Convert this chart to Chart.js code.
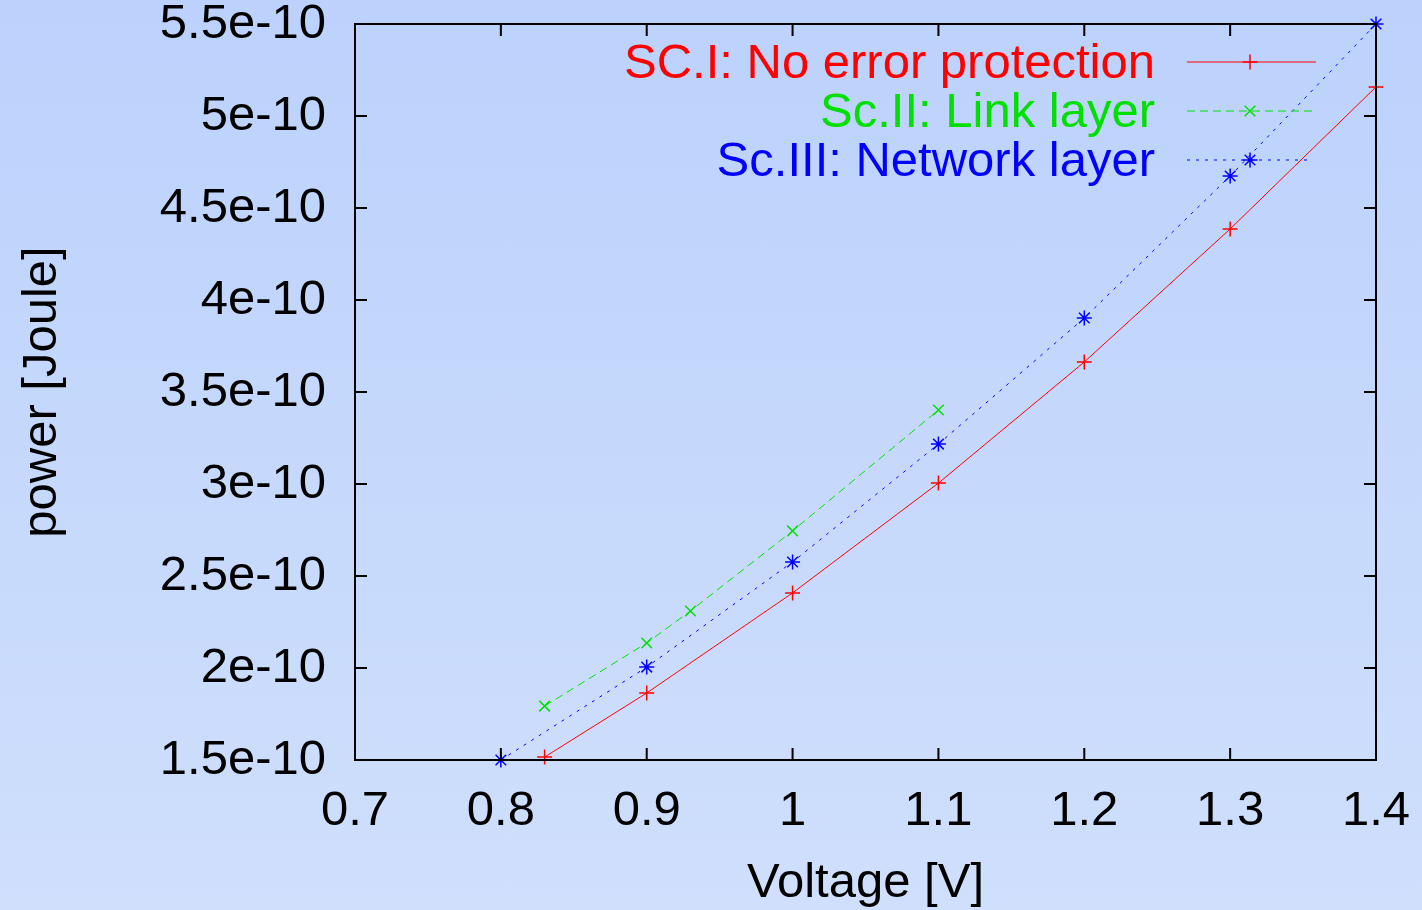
<!DOCTYPE html>
<html lang="en">
<head>
    <meta charset="UTF-8">
    <title>Power vs Voltage</title>
    <script src="https://cdn.jsdelivr.net/npm/chart.js"></script>
    <style>
        body {
            margin: 0;
            padding: 0;
            background: linear-gradient(to bottom, #bcd2fc, #cfdffc);
            width: 1422px;
            height: 910px;
            overflow: hidden;
        }

        #wrap {
            width: 1422px;
            height: 910px;
        }
    </style>
</head>
<body>
    <div id="wrap">
        <canvas id="powerChart" width="1422" height="910"></canvas>
    </div>

    <script>
        // values
        const scIVolt = [0.83, 0.9, 1.0, 1.1, 1.2, 1.3, 1.4];
        const scIPower = [1.516e-10, 1.864e-10, 2.408e-10, 3.005e-10, 3.663e-10, 4.386e-10, 5.158e-10];

        const scIIVolt = [0.83, 0.9, 0.93, 1.0, 1.1];
        const scIIPower = [1.793e-10, 2.136e-10, 2.31e-10, 2.745e-10, 3.402e-10];

        const scIIIVolt = [0.8, 0.9, 1.0, 1.1, 1.2, 1.3, 1.4];
        const scIIIPower = [1.5e-10, 2.005e-10, 2.576e-10, 3.217e-10, 3.902e-10, 4.674e-10, 5.5e-10];

        const seriesNames = ['SC.I: No error protection', 'Sc.II: Link layer', 'Sc.III: Network layer'];

        const xTicks = [0.7, 0.8, 0.9, 1.0, 1.1, 1.2, 1.3, 1.4];
        const yTicks = [1.5e-10, 2e-10, 2.5e-10, 3e-10, 3.5e-10, 4e-10, 4.5e-10, 5e-10, 5.5e-10];

        const FONT = '"Liberation Sans", Arial, sans-serif';

        function pairs(xs, ys) {
            return xs.map((x, i) => ({ x: x, y: ys[i] }));
        }

        function fmtY(v) {
            const m = Math.round(v * 1e11) / 10;
            return m + 'e-10';
        }

        // gnuplot style frame: full box with inward ticks on every side
        const framePlugin = {
            id: 'frame',
            afterDatasetsDraw(chart) {
                const { ctx, chartArea: a, scales } = chart;
                const len = 12;
                ctx.save();
                ctx.strokeStyle = '#000';
                ctx.lineWidth = 2;
                ctx.beginPath();
                xTicks.forEach(v => {
                    const px = scales.x.getPixelForValue(v);
                    ctx.moveTo(px, a.bottom);
                    ctx.lineTo(px, a.bottom - len);
                    ctx.moveTo(px, a.top);
                    ctx.lineTo(px, a.top + len);
                });
                yTicks.forEach(v => {
                    const py = scales.y.getPixelForValue(v);
                    ctx.moveTo(a.left, py);
                    ctx.lineTo(a.left + len, py);
                    ctx.moveTo(a.right, py);
                    ctx.lineTo(a.right - len, py);
                });
                ctx.stroke();
                ctx.strokeRect(a.left, a.top, a.right - a.left, a.bottom - a.top);
                ctx.restore();
            }
        };

        // legend: right aligned text, sample line with marker to its right
        const keyPlugin = {
            id: 'key',
            afterDraw(chart) {
                const { ctx } = chart;
                const rows = [62, 111, 160];
                ctx.save();
                ctx.font = '49px ' + FONT;
                ctx.textAlign = 'right';
                ctx.textBaseline = 'middle';
                chart.data.datasets.forEach((ds, i) => {
                    const y = rows[i];
                    ctx.fillStyle = ds.borderColor;
                    ctx.fillText(seriesNames[i], 1155, y + 2);

                    ctx.strokeStyle = ds.borderColor;
                    ctx.lineWidth = 1;
                    ctx.setLineDash(ds.borderDash || []);
                    ctx.beginPath();
                    ctx.moveTo(1187, y);
                    ctx.lineTo(i === 2 ? 1313 : 1316, y);
                    ctx.stroke();
                    ctx.setLineDash([]);

                    ctx.lineWidth = ds.pointBorderWidth;
                    Chart.helpers.drawPoint(ctx, {
                        pointStyle: ds.pointStyle,
                        radius: ds.pointRadius,
                        borderWidth: ds.pointBorderWidth
                    }, 1250, y);
                });
                ctx.restore();
            }
        };

        const powerChart = new Chart(document.getElementById('powerChart'), {
            type: 'scatter',
            data: {
                datasets: [
                    {
                        label: seriesNames[0],
                        data: pairs(scIVolt, scIPower),
                        showLine: true,
                        borderColor: '#ff0000',
                        backgroundColor: '#ff0000',
                        borderWidth: 1,
                        pointStyle: 'cross',
                        pointRadius: 7.5,
                        pointBorderWidth: 1.5,
                        clip: false
                    },
                    {
                        label: seriesNames[1],
                        data: pairs(scIIVolt, scIIPower),
                        showLine: true,
                        borderColor: '#00e000',
                        backgroundColor: '#00e000',
                        borderWidth: 1,
                        borderDash: [8, 5],
                        pointStyle: 'crossRot',
                        pointRadius: 7.5,
                        pointBorderWidth: 1.5,
                        clip: false
                    },
                    {
                        label: seriesNames[2],
                        data: pairs(scIIIVolt, scIIIPower),
                        showLine: true,
                        borderColor: '#0000ff',
                        backgroundColor: '#0000ff',
                        borderWidth: 1,
                        borderDash: [3, 6],
                        pointStyle: 'star',
                        pointRadius: 7.5,
                        pointBorderWidth: 1.5,
                        clip: false
                    }
                ]
            },
            options: {
                responsive: false,
                animation: false,
                layout: {
                    padding: { top: 24, right: 46, left: 0, bottom: 0 }
                },
                plugins: {
                    legend: { display: false },
                    tooltip: { enabled: false }
                },
                scales: {
                    x: {
                        type: 'linear',
                        min: 0.7,
                        max: 1.4,
                        afterFit(scale) {
                            scale.height = 150;
                            scale.paddingLeft = 0;
                            scale.paddingRight = 0;
                        },
                        afterBuildTicks(scale) { scale.ticks = xTicks.map(v => ({ value: v })); },
                        grid: { display: false, drawTicks: false },
                        border: { display: false },
                        ticks: {
                            color: '#000',
                            padding: 27,
                            maxRotation: 0,
                            font: { family: FONT, size: 49, lineHeight: 1 },
                            callback: v => String(parseFloat(v.toFixed(1)))
                        },
                        title: {
                            display: true,
                            text: 'Voltage [V]',
                            color: '#000',
                            padding: { top: 0, bottom: -3 },
                            font: { family: FONT, size: 49 }
                        }
                    },
                    y: {
                        type: 'linear',
                        min: 1.5e-10,
                        max: 5.5e-10,
                        afterFit(scale) {
                            scale.width = 355;
                            scale.paddingTop = 0;
                            scale.paddingBottom = 0;
                        },
                        afterBuildTicks(scale) { scale.ticks = yTicks.map(v => ({ value: v })); },
                        grid: { display: false, drawTicks: false },
                        border: { display: false },
                        ticks: {
                            color: '#000',
                            padding: 29,
                            font: { family: FONT, size: 49, lineHeight: 1 },
                            callback: v => fmtY(v)
                        },
                        title: {
                            display: true,
                            text: 'power [Joule]',
                            color: '#000',
                            padding: { top: 13, bottom: 0 },
                            font: { family: FONT, size: 49 }
                        }
                    }
                }
            },
            plugins: [framePlugin, keyPlugin]
        });
    </script>
</body>
</html>
